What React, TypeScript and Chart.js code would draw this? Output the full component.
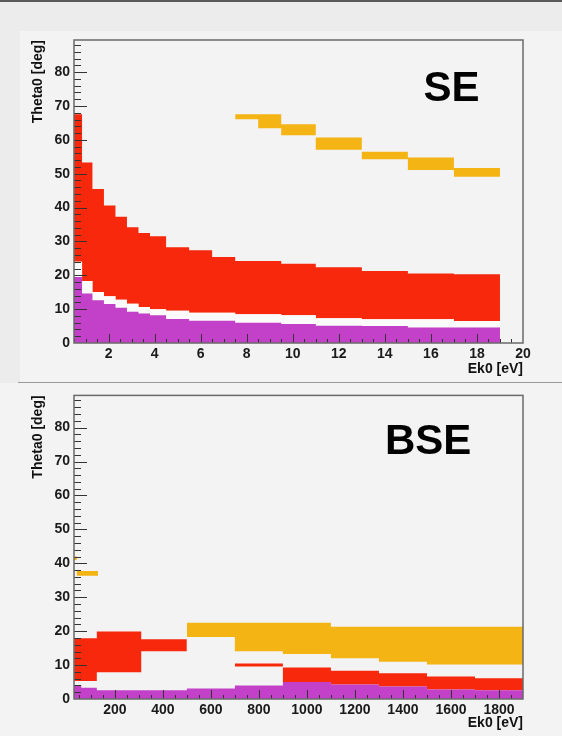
import React, { useEffect, useRef } from "react";
import { Chart, registerables } from "chart.js";

Chart.register(...registerables);

// ---------- SE panel (Ek0 in eV) ----------
const seRedEdges = [0.5, 0.85, 1.3, 1.8, 2.3, 2.8, 3.3, 3.8, 4.5, 5.5, 6.5, 7.5, 9.5, 11, 13, 15, 17, 19];
const seRedHigh = [67.6, 53.3, 45.5, 40.6, 37.3, 34.2, 32.5, 31.5, 28.3, 27.4, 25.4, 24.2, 23.4, 22.4, 21.3, 20.5, 20.3];
const seRedLow = [24.0, 18.3, 15.1, 13.8, 12.8, 11.6, 10.6, 10.0, 9.5, 8.9, 8.9, 8.5, 8.2, 7.3, 7.0, 7.0, 6.5];
const sePurpleHigh = [19.5, 14.6, 12.6, 11.5, 10.4, 9.2, 8.7, 8.2, 7.1, 6.6, 6.6, 6.0, 5.6, 5.1, 5.0, 4.6, 4.6];
const seYellowEdges = [7.5, 8.5, 9.5, 11, 13, 15, 17, 19];
const seYellowHigh = [67.6, 67.6, 64.6, 60.7, 56.5, 54.8, 51.7];
const seYellowLow = [66.1, 63.4, 61.4, 57.1, 54.3, 51.1, 49.1];

// ---------- BSE panel ----------
const bseYellowSmallEdges = [30, 42, 130];
const bseYellowSmallHigh = [42.0, 37.7];
const bseYellowSmallLow = [41.0, 36.3];
const bseRedAEdges = [30, 125, 310, 500];
const bseRedAHigh = [17.9, 19.9, 17.6];
const bseRedALow = [5.3, 7.9, 14.1];
const bseRedBEdges = [700, 900, 1100, 1300, 1500, 1700, 1900];
const bseRedBHigh = [10.5, 9.3, 8.3, 7.6, 6.6, 6.1];
const bseRedBLow = [9.6, 5.0, 4.3, 3.7, 2.8, 2.6];
const bseYellowEdges = [500, 700, 900, 1100, 1300, 1500, 1900];
const bseYellowHigh = [22.5, 22.5, 22.5, 21.3, 21.3, 21.3];
const bseYellowLow = [18.3, 14.1, 13.3, 12.0, 11.0, 10.2];
const bsePurpleEdges = [30, 60, 125, 500, 700, 900, 1100, 1300, 1500, 1700, 1900];
const bsePurpleHigh = [4.0, 3.3, 2.6, 3.1, 4.0, 5.0, 4.3, 3.7, 2.8, 2.6];

// ---------- tick values ----------
const seXTicks = [2, 4, 6, 8, 10, 12, 14, 16, 18, 20];
const bseXTicks = [200, 400, 600, 800, 1000, 1200, 1400, 1600, 1800];
const yTicks = [0, 10, 20, 30, 40, 50, 60, 70, 80];

const seXMinor: number[] = [];
for (let v = 0.5; v < 20; v += 0.5) if (v % 2 !== 0) seXMinor.push(v);
const bseXMinor: number[] = [];
for (let v = 50; v < 1900; v += 50) if (v % 200 !== 0) bseXMinor.push(v);
const yMinor: number[] = [];
for (let v = 2; v < 90; v += 2) if (v % 10 !== 0) yMinor.push(v);

const RED = "#f8280c";
const YELLOW = "#f4b414";
const PURPLE = "#c241c8";
const GAP = "#fbfbfb";
const FONT = "'Liberation Sans', Arial, sans-serif";

function stepPoints(edges: number[], vals: number[]) {
  const pts = vals.map((v, i) => ({ x: edges[i], y: v }));
  pts.push({ x: edges[edges.length - 1], y: vals[vals.length - 1] });
  return pts;
}

type Band = { edges: number[]; hi: number[]; lo?: number[]; color: string; lowFill?: { target: number; color: string } };

function buildDatasets(bands: Band[]) {
  const ds: any[] = [];
  const base = { stepped: true, borderWidth: 0, borderColor: "rgba(0,0,0,0)", pointRadius: 0, pointHoverRadius: 0 };
  bands.forEach((b) => {
    if (b.lo) {
      const loIdx = ds.length;
      ds.push({
        ...base,
        data: stepPoints(b.edges, b.lo),
        fill: b.lowFill ? b.lowFill.target : false,
        backgroundColor: b.lowFill ? b.lowFill.color : "rgba(0,0,0,0)",
      });
      ds.push({ ...base, data: stepPoints(b.edges, b.hi), fill: loIdx, backgroundColor: b.color });
    } else {
      ds.push({ ...base, data: stepPoints(b.edges, b.hi), fill: "origin", backgroundColor: b.color });
    }
  });
  return ds;
}

const frameTicks = {
  id: "frameTicks",
  afterDatasetsDraw(chart: any, _args: any, opts: any) {
    const { ctx, chartArea: a, scales } = chart;
    const x = scales.x;
    const y = scales.y;
    ctx.save();
    ctx.strokeStyle = "#333";
    ctx.lineWidth = 1;
    ctx.beginPath();
    const xt = (vals: number[], len: number) => {
      vals.forEach((v) => {
        const px = Math.round(x.getPixelForValue(v)) + 0.5;
        if (px < a.left || px > a.right) return;
        ctx.moveTo(px, a.bottom);
        ctx.lineTo(px, a.bottom - len);
      });
    };
    const yt = (vals: number[], len: number) => {
      vals.forEach((v) => {
        const py = Math.round(y.getPixelForValue(v)) + 0.5;
        if (py < a.top || py > a.bottom) return;
        ctx.moveTo(a.left, py);
        ctx.lineTo(a.left + len, py);
      });
    };
    xt(opts.xMajor, 9);
    xt(opts.xMinor, 4);
    yt(yTicks, 13);
    yt(yMinor, 7);
    ctx.stroke();
    ctx.strokeStyle = "#6a6a6a";
    ctx.lineWidth = 1.5;
    ctx.strokeRect(a.left, a.top, a.right - a.left, a.bottom - a.top);
    ctx.fillStyle = "#000";
    ctx.font = `bold 42px ${FONT}`;
    ctx.textAlign = "center";
    ctx.textBaseline = "middle";
    ctx.fillText(opts.label, x.getPixelForValue(opts.labelX), y.getPixelForValue(opts.labelY));
    ctx.restore();
  },
};

function makeOptions(p: {
  xMin: number; xMax: number; xTicks: number[]; padTop: number; xAxisH: number; xTitlePad: number;
  xMinor: number[]; label: string; labelX: number; labelY: number;
}) {
  const tickFont = { family: FONT, size: 14, weight: "bold" as const };
  return {
    responsive: false,
    animation: false as const,
    events: [],
    layout: { padding: { top: p.padTop, right: 39, left: 0, bottom: 0 } },
    plugins: {
      legend: { display: false },
      tooltip: { enabled: false },
      frameTicks: { xMajor: p.xTicks, xMinor: p.xMinor, label: p.label, labelX: p.labelX, labelY: p.labelY },
    },
    scales: {
      x: {
        type: "linear" as const,
        min: p.xMin,
        max: p.xMax,
        grid: { display: false, drawTicks: false },
        border: { display: false },
        afterBuildTicks: (s: any) => { s.ticks = p.xTicks.map((v) => ({ value: v })); },
        afterFit: (s: any) => { s.height = p.xAxisH; },
        ticks: {
          color: "#1a1a1a", font: tickFont, padding: 3, maxRotation: 0, autoSkip: false,
          callback: (v: any) => String(v),
        },
        title: {
          display: true, text: "Ek0 [eV]", align: "end" as const, color: "#111",
          font: { family: FONT, size: 14, weight: "bold" as const }, padding: { top: 0, bottom: p.xTitlePad },
        },
      },
      y: {
        type: "linear" as const,
        min: 0,
        max: 89.5,
        grid: { display: false, drawTicks: false },
        border: { display: false },
        afterBuildTicks: (s: any) => { s.ticks = yTicks.map((v) => ({ value: v })); },
        afterFit: (s: any) => { s.width = 74; },
        ticks: { color: "#1a1a1a", font: tickFont, padding: 4, autoSkip: false, callback: (v: any) => String(v) },
        title: {
          display: true, text: "Theta0 [deg]", align: "end" as const, color: "#111",
          font: { family: FONT, size: 14, weight: "bold" as const }, padding: { top: 29.5, bottom: 0 },
        },
      },
    },
  };
}

export default function App() {
  const topRef = useRef<HTMLCanvasElement | null>(null);
  const botRef = useRef<HTMLCanvasElement | null>(null);

  useEffect(() => {
    const seDatasets = buildDatasets([
      { edges: seRedEdges, hi: sePurpleHigh, color: PURPLE },
      { edges: seRedEdges, hi: seRedHigh, lo: seRedLow, color: RED, lowFill: { target: 0, color: GAP } },
      { edges: seYellowEdges, hi: seYellowHigh, lo: seYellowLow, color: YELLOW },
    ]);
    const bseDatasets = buildDatasets([
      { edges: bsePurpleEdges, hi: bsePurpleHigh, color: PURPLE },
      { edges: bseRedAEdges, hi: bseRedAHigh, lo: bseRedALow, color: RED },
      { edges: bseRedBEdges, hi: bseRedBHigh, lo: bseRedBLow, color: RED },
      { edges: bseYellowEdges, hi: bseYellowHigh, lo: bseYellowLow, color: YELLOW },
      { edges: bseYellowSmallEdges, hi: bseYellowSmallHigh, lo: bseYellowSmallLow, color: YELLOW },
    ]);

    const c1 = new Chart(topRef.current as HTMLCanvasElement, {
      type: "line",
      data: { datasets: seDatasets },
      options: makeOptions({
        xMin: 0.5, xMax: 20, xTicks: seXTicks, padTop: 40, xAxisH: 38, xTitlePad: 3.6,
        xMinor: seXMinor, label: "SE", labelX: 16.9, labelY: 75,
      }) as any,
      plugins: [frameTicks as any],
    });
    const c2 = new Chart(botRef.current as HTMLCanvasElement, {
      type: "line",
      data: { datasets: bseDatasets },
      options: makeOptions({
        xMin: 30, xMax: 1900, xTicks: bseXTicks, padTop: 7, xAxisH: 37, xTitlePad: 4.6,
        xMinor: bseXMinor, label: "BSE", labelX: 1505, labelY: 75.5,
      }) as any,
      plugins: [frameTicks as any],
    });
    return () => {
      c1.destroy();
      c2.destroy();
    };
  }, []);

  return (
    <div style={{ position: "absolute", left: 0, top: 0, width: 562, height: 736, background: "#ececec", overflow: "hidden" }}>
      <div style={{ position: "absolute", left: 0, top: 0, width: 562, height: 2, background: "#5a5a5a" }} />
      <div style={{ position: "absolute", left: 20, top: 31, width: 542, height: 351, background: "#f3f3f3" }} />
      <div style={{ position: "absolute", left: 0, top: 383, width: 562, height: 353, background: "#f3f3f3" }} />
      <div style={{ position: "absolute", left: 18, top: 382, width: 544, height: 1, background: "#9a9a9a" }} />
      <canvas ref={topRef} width={562} height={381} style={{ position: "absolute", left: 0, top: 0, width: 562, height: 381 }} />
      <canvas ref={botRef} width={562} height={353} style={{ position: "absolute", left: 0, top: 383, width: 562, height: 353 }} />
    </div>
  );
}
